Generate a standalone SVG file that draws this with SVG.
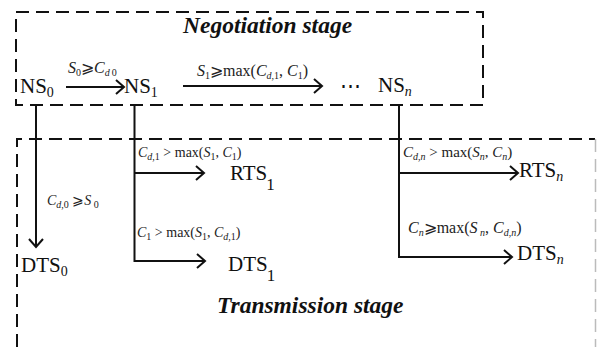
<svg xmlns="http://www.w3.org/2000/svg" width="597" height="347" viewBox="0 0 597 347" font-family="'Liberation Serif', 'Times New Roman', Times, 'DejaVu Serif', serif">
<style>
text{font-family:"Liberation Serif","Times New Roman",Times,"DejaVu Serif",serif;fill:#111}
.nd{font-size:21px}
.ndsub{font-size:14px}
.stage{font-size:23.5px;font-weight:bold;font-style:italic}
.lb{font-size:14px;fill:#222}
.lb2{font-size:16px;fill:#222}
.i{font-style:italic}
.sb{font-size:10px}
.box{fill:none;stroke:#111;stroke-width:2;stroke-dasharray:13 7}
.ln{fill:none;stroke:#111;stroke-width:2}
</style>
<defs>
<marker id="ah" markerUnits="userSpaceOnUse" markerWidth="14" markerHeight="18" viewBox="-10 -9 12 18" refX="0" refY="0" orient="auto">
<path d="M-8,-7 L0,0 L-8,7" fill="none" stroke="#111" stroke-width="2"/>
</marker>
</defs>

<g id="negotiation-stage">
<rect class="box" x="16" y="12" width="467" height="93"/>
<text class="stage" x="183" y="33">Negotiation stage</text>
</g>
<g id="transmission-stage">
<path class="box" d="M17,347 V139 H595"/>
<path d="M595.5,139 V347" fill="none" stroke="#bbb" stroke-width="1.5" stroke-dasharray="13 7"/>
<text class="stage" x="217" y="313">Transmission stage</text>
</g>

<g id="connectors">
<path class="ln" d="M66,87 H124" marker-end="url(#ah)"/>
<path class="ln" d="M183,86 H322" marker-end="url(#ah)"/>
<path class="ln" d="M36,104 V247" marker-end="url(#ah)"/>
<path class="ln" d="M134.5,104 V261 H205" marker-end="url(#ah)"/>
<path class="ln" d="M134.5,173 H204" marker-end="url(#ah)"/>
<path class="ln" d="M399,104 V257 H512" marker-end="url(#ah)"/>
<path class="ln" d="M399,173 H518" marker-end="url(#ah)"/>

<text class="lb2" x="68" y="73"><tspan class="i">S</tspan><tspan class="sb" dy="3">0</tspan><tspan dy="-3">⩾</tspan><tspan class="i">C</tspan><tspan class="sb i" dy="3">d</tspan><tspan class="sb" dx="2">0</tspan></text>
<text class="lb2" x="197" y="76"><tspan class="i">S</tspan><tspan class="sb" dy="3">1</tspan><tspan dy="-3">⩾max(</tspan><tspan class="i">C</tspan><tspan class="sb i" dy="3">d</tspan><tspan class="sb">,1</tspan><tspan dy="-3">, </tspan><tspan class="i">C</tspan><tspan class="sb" dy="3">1</tspan><tspan dy="-3">)</tspan></text>
<text class="lb" x="138" y="157"><tspan class="i">C</tspan><tspan class="sb i" dy="3">d</tspan><tspan class="sb">,1</tspan><tspan dy="-3"> &gt; max(</tspan><tspan class="i">S</tspan><tspan class="sb" dy="3">1</tspan><tspan dy="-3">, </tspan><tspan class="i">C</tspan><tspan class="sb" dy="3">1</tspan><tspan dy="-3">)</tspan></text>
<text class="lb" x="47" y="205"><tspan class="i">C</tspan><tspan class="sb i" dy="3">d</tspan><tspan class="sb">,0</tspan><tspan dy="-3"> ⩾</tspan><tspan class="i">S</tspan><tspan class="sb" dy="3"> 0</tspan></text>
<text class="lb" x="137" y="237"><tspan class="i">C</tspan><tspan class="sb" dy="3">1</tspan><tspan dy="-3"> &gt; max(</tspan><tspan class="i">S</tspan><tspan class="sb" dy="3">1</tspan><tspan dy="-3">, </tspan><tspan class="i">C</tspan><tspan class="sb i" dy="3">d</tspan><tspan class="sb">,1</tspan><tspan dy="-3">)</tspan></text>
<text class="lb" x="403" y="157" style="font-size:15px"><tspan class="i">C</tspan><tspan class="sb i" dy="3">d</tspan><tspan class="sb">,</tspan><tspan class="sb i">n</tspan><tspan dy="-3"> &gt; max(</tspan><tspan class="i">S</tspan><tspan class="sb i" dy="3">n</tspan><tspan dy="-3">, </tspan><tspan class="i">C</tspan><tspan class="sb i" dy="3">n</tspan><tspan dy="-3">)</tspan></text>
<text class="lb" x="408" y="233" style="font-size:16px"><tspan class="i">C</tspan><tspan class="sb i" dy="3">n</tspan><tspan dy="-3">⩾max(</tspan><tspan class="i">S</tspan><tspan class="sb i" dy="3"> n</tspan><tspan dy="-3">, </tspan><tspan class="i">C</tspan><tspan class="sb i" dy="3">d</tspan><tspan class="sb">,</tspan><tspan class="sb i">n</tspan><tspan dy="-3">)</tspan></text>
</g>

<g id="NS0"><text class="nd" x="20" y="93">NS<tspan class="ndsub" dy="4">0</tspan></text></g>
<g id="NS1"><text class="nd" x="124" y="93">NS<tspan class="ndsub" dy="4">1</tspan></text></g>
<g id="ellipsis"><text class="nd" x="340" y="93">⋯</text></g>
<g id="NSn"><text class="nd" x="378" y="92">NS<tspan class="ndsub i" dy="4">n</tspan></text></g>
<g id="DTS0"><text class="nd" x="21" y="272">DTS<tspan class="ndsub" dy="4">0</tspan></text></g>
<g id="RTS1"><text class="nd" x="230" y="180">RTS<tspan style="font-size:17px" dx="-1" dy="10">1</tspan></text></g>
<g id="DTS1"><text class="nd" x="228" y="271">DTS<tspan style="font-size:17px" dx="-1" dy="10">1</tspan></text></g>
<g id="RTSn"><text class="nd" x="519" y="177">RTS<tspan class="ndsub i" dy="4">n</tspan></text></g>
<g id="DTSn"><text class="nd" x="517" y="260">DTS<tspan class="ndsub i" dy="4">n</tspan></text></g>
</svg>
